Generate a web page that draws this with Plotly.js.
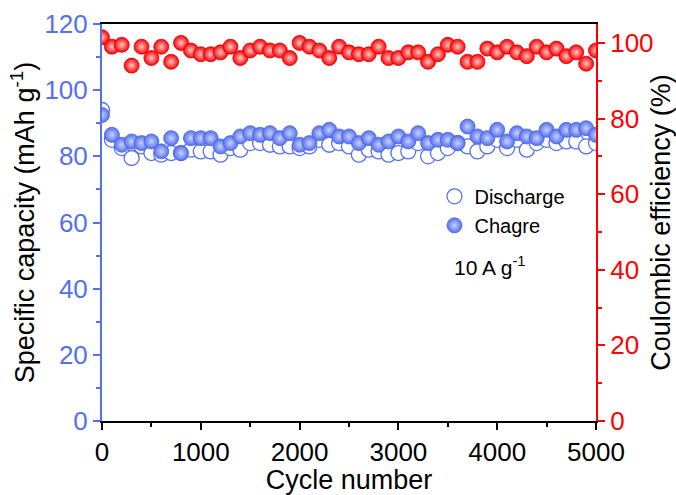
<!DOCTYPE html>
<html>
<head>
<meta charset="utf-8">
<script src="https://cdn.plot.ly/plotly-3.0.1.min.js"></script>
<style>html,body{margin:0;padding:0;background:#fff;}#chart{width:676px;height:495px;}</style>
</head>
<body>
<div id="chart"></div>
<script>
var cycles = [0,100,200,300,400,500,600,700,800,900,1000,1100,1200,1300,1400,1500,1600,1700,1800,1900,2000,2100,2200,2300,2400,2500,2600,2700,2800,2900,3000,3100,3200,3300,3400,3500,3600,3700,3800,3900,4000,4100,4200,4300,4400,4500,4600,4700,4800,4900,5000];
var discharge = [94,85,82.5,79.5,83,81,80.5,81,81,82,81.5,81.5,80.5,82.5,82,84,84,83.5,83,83,82.5,83,85,83.5,84,83,80.5,82,81.5,80.5,81,81.5,84,80,81,82.5,84,83,81.5,83,85,82.5,85,82,84,85,84,84.5,84.5,83,84];
var charge = [92.5,86.5,83.5,84.5,84,84.5,81.5,85.5,81,85.5,85.5,85.5,83,84,86,87,86.5,87,85.5,87,83.5,84,87,88,86,86,84,85.5,83.5,84.5,86,84.5,87,84,85,85,84,89,86,85.5,88,84.5,87,86,85.5,88,86,88,88,88.5,86.5];
var efficiency = [101.5,99,99.5,94,99,96,99,95,100,98,97,97,97.5,99,96,98,99,98,98,96,100,99,98,96,99,97.5,97,97,99,96,96,97.5,97.5,95,97,99.5,99,95,95,98.5,97.5,99,97.5,96.5,99,97.5,98.5,96.5,97.5,94.5,98];

var BLUE = '#5470F0';
var RED = '#FF0000';
var FONT = 'Liberation Sans, Arial, sans-serif';

var traces = [
  {x: cycles, y: discharge, name: 'Discharge', type: 'scatter', mode: 'markers',
   marker: {symbol: 'circle', size: 15, color: '#ffffff', line: {color: BLUE, width: 1.3}}},
  {x: cycles, y: charge, name: 'Chagre', type: 'scatter', mode: 'markers',
   marker: {symbol: 'circle', size: 15, color: BLUE, gradient: {type: 'radial', color: '#c8d2ff'}, line: {color: '#4a64e0', width: 0.8}}},
  {x: cycles, y: efficiency, name: 'CE', type: 'scatter', mode: 'markers', yaxis: 'y2', showlegend: false,
   marker: {symbol: 'circle', size: 15, color: RED, gradient: {type: 'radial', color: '#ffc8c8'}, line: {color: '#e00000', width: 0.8}}}
];

var layout = {
  width: 676, height: 495,
  margin: {l: 102, r: 80, t: 24, b: 74},
  paper_bgcolor: '#fff', plot_bgcolor: '#fff',
  font: {family: FONT, size: 26, color: '#000'},
  showlegend: true,
  legend: {x: 0.673, y: 0.615, xanchor: 'left', yanchor: 'top', bgcolor: 'rgba(0,0,0,0)',
           font: {family: FONT, size: 20, color: '#000'}, tracegroupgap: 0, itemwidth: 30},
  xaxis: {range: [0, 5000], tickvals: [0,1000,2000,3000,4000,5000], ticks: 'outside', ticklen: 7, tickwidth: 2,
          tickcolor: '#000', showline: true, linecolor: '#000', linewidth: 2, mirror: true, showgrid: false, zeroline: false,
          minor: {tickvals: [500,1500,2500,3500,4500], ticks: 'outside', ticklen: 4, tickwidth: 2, tickcolor: '#000'},
          tickfont: {family: FONT, size: 26, color: '#000'},
          title: {text: 'Cycle number', font: {family: FONT, size: 27, color: '#000'}, standoff: 0}},
  yaxis: {range: [0, 120], tickvals: [0,20,40,60,80,100,120], ticks: 'outside', ticklen: 7, tickwidth: 2,
          tickcolor: BLUE, showline: true, linecolor: BLUE, linewidth: 2, showgrid: false, zeroline: false,
          minor: {tickvals: [10,30,50,70,90,110], ticks: 'outside', ticklen: 4, tickwidth: 2, tickcolor: BLUE},
          tickfont: {family: FONT, size: 26, color: BLUE},
          title: {text: 'Specific capacity (mAh g<sup>-1</sup>)', font: {family: FONT, size: 27, color: '#000'}, standoff: 2}},
  yaxis2: {range: [0, 105], overlaying: 'y', side: 'right', tickvals: [0,20,40,60,80,100], ticks: 'outside', ticklen: 7, tickwidth: 2,
          tickcolor: RED, linecolor: RED, linewidth: 2, showline: true, showgrid: false, zeroline: false,
          minor: {tickvals: [10,30,50,70,90], ticks: 'outside', ticklen: 4, tickwidth: 2, tickcolor: RED},
          tickfont: {family: FONT, size: 26, color: RED},
          title: {text: 'Coulombic efficiency (%)', font: {family: FONT, size: 27, color: '#000'}, standoff: 2}},
  annotations: [
    {xref: 'paper', yref: 'paper', x: 0.708, y: 0.39, xanchor: 'left', yanchor: 'middle', showarrow: false,
     text: '10 A g<sup>-1</sup>', font: {family: FONT, size: 21, color: '#000'}}
  ]
};

Plotly.newPlot('chart', traces, layout, {displayModeBar: false, staticPlot: true});
</script>
</body>
</html>
